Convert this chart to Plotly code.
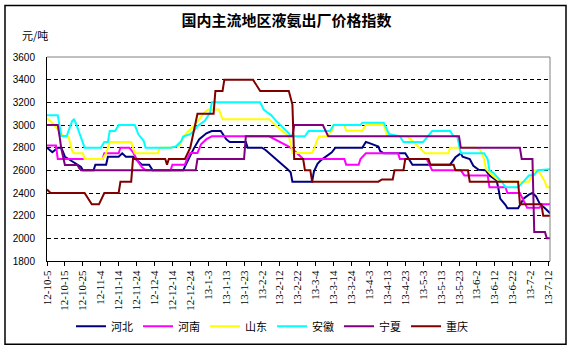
import pandas as pd
import plotly.graph_objects as go

# ---------------- data ----------------
start_date = "2012-10-05"

x_labels = ["12-10-5", "12-10-15", "12-10-25", "12-11-4", "12-11-14", "12-11-24",
            "12-12-4", "12-12-14", "12-12-24", "13-1-3", "13-1-13", "13-1-23",
            "13-2-2", "13-2-12", "13-2-22", "13-3-4", "13-3-14", "13-3-24",
            "13-4-3", "13-4-13", "13-4-23", "13-5-3", "13-5-13", "13-5-23",
            "13-6-2", "13-6-12", "13-6-22", "13-7-2", "13-7-12"]

y_ticks = [1800, 2000, 2200, 2400, 2600, 2800, 3000, 3200, 3400, 3600]

series_names = ["河北", "河南", "山东", "安徽", "宁夏", "重庆"]

# day offsets from start_date and price (元/吨) at breakpoints
hebei_day = [0, 3, 6, 8, 9, 10, 12, 16, 19, 20, 26, 27, 33, 34, 40, 42, 44, 48, 51, 53,
             57, 59, 76, 78, 80, 82, 85, 89, 92, 97, 100, 102, 111, 112, 120, 122, 124, 127, 130, 134,
             136, 137, 148, 149, 151, 153, 159, 161, 176, 178, 180, 185, 186, 188, 200, 202, 204, 225, 228, 231,
             232, 236, 238, 241, 245, 247, 251, 252, 253, 256, 257, 263, 264, 266, 269, 271, 273, 275, 278, 281]
hebei_val = [2800, 2760, 2800, 2800, 2760, 2720, 2700, 2660, 2630, 2600, 2600, 2650, 2650, 2720, 2720, 2750, 2720, 2720, 2680, 2650,
             2650, 2600, 2600, 2672, 2730, 2794, 2875, 2927, 2947, 2947, 2875, 2850, 2850, 2800, 2800, 2780, 2753, 2715, 2672, 2613,
             2584, 2500, 2500, 2590, 2657, 2690, 2759, 2800, 2800, 2850, 2840, 2810, 2770, 2750, 2750, 2700, 2650, 2650, 2715, 2750,
             2720, 2700, 2640, 2605, 2600, 2555, 2511, 2440, 2350, 2293, 2265, 2265, 2290, 2350, 2386, 2400, 2370, 2308, 2265, 2220]

henan_day = [0, 5, 6, 31, 32, 40, 41, 46, 48, 51, 53, 55, 69, 70, 77, 78, 80, 84, 86, 89,
             92, 124, 135, 137, 141, 143, 166, 167, 174, 175, 178, 196, 197, 212, 215, 231, 233, 246, 247, 256,
             257, 264, 268, 275, 276, 281]
henan_val = [2820, 2820, 2700, 2700, 2750, 2750, 2800, 2800, 2760, 2672, 2628, 2600, 2600, 2650, 2650, 2695, 2753, 2753, 2830, 2875,
             2900, 2900, 2810, 2787, 2730, 2700, 2700, 2650, 2650, 2700, 2750, 2750, 2700, 2700, 2600, 2600, 2555, 2555, 2450, 2450,
             2400, 2400, 2270, 2270, 2300, 2300]

shandong_day = [0, 2, 7, 9, 12, 14, 15, 20, 21, 31, 33, 35, 47, 48, 49, 62, 63, 69, 72, 74,
                76, 78, 82, 84, 88, 90, 96, 98, 124, 128, 132, 135, 136, 137, 148, 149, 151, 152, 156, 159,
                160, 166, 167, 176, 178, 188, 190, 201, 203, 211, 224, 225, 239, 242, 244, 245, 247, 249, 253, 269,
                271, 272, 274, 275, 278, 279, 281]
shandong_val = [3060, 3034, 2947, 2900, 2900, 2773, 2750, 2750, 2700, 2700, 2750, 2850, 2850, 2800, 2750, 2750, 2800, 2800, 2810, 2820,
                2889, 2930, 2991, 3034, 3113, 3136, 3136, 3050, 3050, 2991, 2940, 2898, 2840, 2753, 2753, 2787, 2875, 2898, 2898, 2947,
                3000, 3000, 2950, 2950, 3000, 3000, 2900, 2900, 2875, 2750, 2750, 2800, 2800, 2780, 2700, 2613, 2580, 2550, 2500, 2500,
                2560, 2600, 2600, 2580, 2500, 2450, 2450]

anhui_day = [0, 6, 8, 11, 14, 15, 16, 18, 21, 30, 32, 34, 35, 38, 40, 49, 51, 54, 55, 69,
             72, 75, 76, 80, 82, 84, 88, 91, 92, 119, 121, 123, 125, 128, 132, 135, 136, 144, 146, 158,
             160, 175, 176, 188, 191, 197, 199, 210, 215, 225, 227, 229, 231, 244, 246, 247, 249, 254, 256, 263,
             266, 269, 272, 274, 281]
anhui_val = [3087, 3087, 2903, 2903, 3034, 3049, 3020, 2930, 2800, 2800, 2851, 2851, 2947, 2947, 3000, 3000, 2918, 2860, 2800, 2800,
             2810, 2860, 2898, 2920, 2947, 2991, 3034, 3107, 3200, 3200, 3136, 3110, 3090, 3034, 2977, 2927, 2900, 2900, 2947, 2947,
             3000, 3000, 3020, 3020, 2920, 2900, 2850, 2850, 2947, 2947, 2900, 2900, 2750, 2750, 2700, 2600, 2580, 2497, 2450, 2450,
             2500, 2555, 2560, 2600, 2610]

ningxia_day = [0, 6, 7, 8, 10, 17, 18, 19, 83, 84, 110, 111, 137, 138, 154, 157, 230, 231, 264, 265,
               271, 272, 278, 279, 281]
ningxia_val = [3000, 3000, 2903, 2790, 2648, 2648, 2620, 2600, 2600, 2700, 2700, 2900, 2900, 3000, 3000, 2900, 2900, 2800, 2800, 2700,
               2700, 2055, 2055, 2000, 2000]

chongqing_day = [0, 2, 21, 25, 29, 32, 40, 41, 47, 48, 66, 67, 68, 77, 80, 84, 93, 94, 98, 99,
                 115, 117, 119, 135, 136, 137, 138, 143, 144, 147, 148, 185, 187, 193, 194, 199, 200, 213, 214, 227,
                 228, 235, 236, 263, 264, 276, 277, 281]
chongqing_val = [2430, 2400, 2400, 2300, 2300, 2400, 2400, 2500, 2500, 2700, 2700, 2650, 2700, 2700, 2800, 3100, 3100, 3300, 3300, 3400,
                 3400, 3354, 3300, 3300, 3238, 3180, 2700, 2700, 2600, 2600, 2500, 2500, 2520, 2520, 2600, 2600, 2700, 2700, 2650, 2650,
                 2600, 2600, 2500, 2500, 2300, 2300, 2200, 2200]

series_days = [hebei_day, henan_day, shandong_day, anhui_day, ningxia_day, chongqing_day]
series_vals = [hebei_val, henan_val, shandong_val, anhui_val, ningxia_val, chongqing_val]
series_colors = ["#000080", "#FF00FF", "#FFFF00", "#00FFFF", "#800080", "#800000"]

# ---------------- figure ----------------
W, H = 573, 353
ML, MR, MT, MB = 47, 23, 57, 90
PW, PH = W - ML - MR, H - MT - MB


def px_x(px):
    return (px - ML) / PW


def px_y(py):
    return (H - MB - py) / PH


start = pd.Timestamp(start_date)
tick_dates = pd.to_datetime(x_labels, format="%y-%m-%d")

fig = go.Figure()
for name, days, vals, color in zip(series_names, series_days, series_vals, series_colors):
    fig.add_trace(go.Scatter(
        x=start + pd.to_timedelta(days, unit="D"), y=vals, mode="lines", name=name,
        line=dict(color=color, width=2),
    ))

fig.update_layout(
    width=W, height=H,
    margin=dict(l=ML, r=MR, t=MT, b=MB),
    paper_bgcolor="white", plot_bgcolor="white",
    font=dict(family="Noto Sans CJK SC", color="black"),
    title=dict(text="<b>国内主流地区液氨出厂价格指数</b>", x=0.5, xanchor="center",
               y=1 - 21 / H, yanchor="middle", xref="container", yref="container",
               font=dict(size=15, family="Noto Sans CJK SC", color="black")),
    showlegend=True,
    legend=dict(orientation="h", x=px_x(272), xanchor="center", y=px_y(329), yanchor="middle",
                font=dict(size=11, family="Noto Sans CJK SC", color="black"),
                bgcolor="rgba(0,0,0,0)", itemwidth=30, tracegroupgap=0),
    xaxis=dict(type="date", range=[start, start + pd.Timedelta(days=280.8)],
               tickvals=tick_dates, ticktext=x_labels, tickangle=-90,
               tickfont=dict(size=11, family="Liberation Serif", color="black"),
               ticks="outside", ticklen=4, tickcolor="black", tickwidth=1,
               showline=True, linecolor="black", linewidth=1,
               showgrid=False, zeroline=False),
    yaxis=dict(range=[1800, 3600], tickvals=y_ticks,
               tickfont=dict(size=10, family="Liberation Sans", color="black"),
               ticks="", ticklabelstandoff=9,
               showline=True, linecolor="black", linewidth=1,
               showgrid=True, gridcolor="black", gridwidth=1, griddash="4px,3px",
               zeroline=False),
    annotations=[dict(text="元/吨", xref="paper", yref="paper", x=px_x(20), y=px_y(35),
                      xanchor="left", yanchor="middle", showarrow=False,
                      font=dict(size=11, family="Noto Sans CJK SC", color="black"))],
    shapes=[
        # plot area top and right borders (gray)
        dict(type="line", xref="paper", yref="paper", x0=0, x1=1, y0=1, y1=1,
             line=dict(color="#808080", width=1), layer="above"),
        dict(type="line", xref="paper", yref="paper", x0=1, x1=1, y0=0, y1=1,
             line=dict(color="#808080", width=1), layer="above"),
        # outer chart border
        dict(type="rect", xref="paper", yref="paper",
             x0=px_x(5), x1=px_x(566), y0=px_y(347), y1=px_y(5),
             line=dict(color="black", width=1.5), fillcolor="rgba(0,0,0,0)", layer="above"),
    ],
)

fig.write_html("out.html")
